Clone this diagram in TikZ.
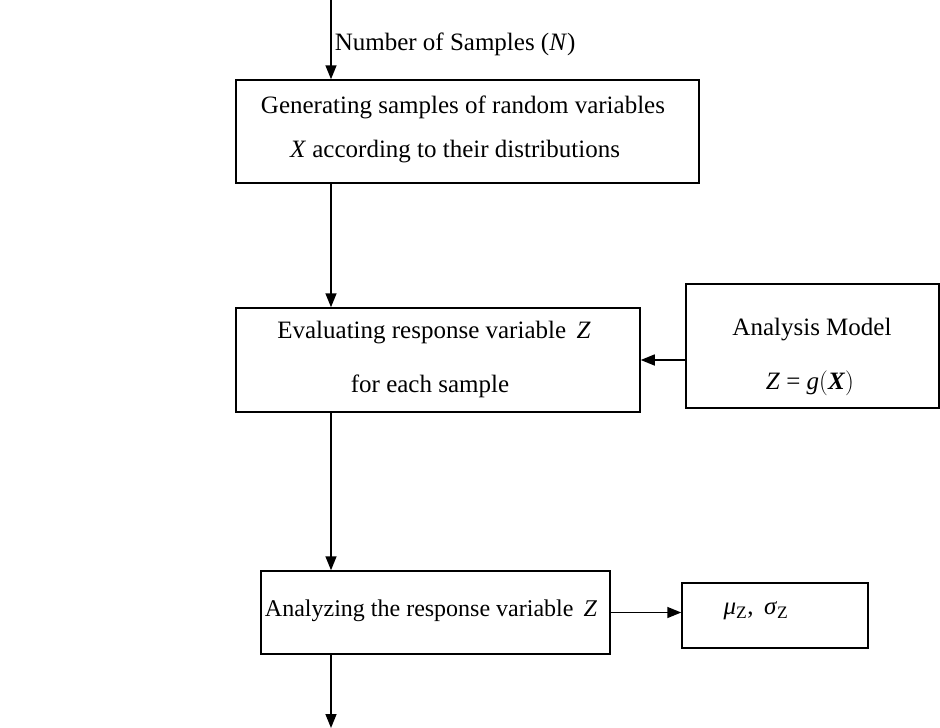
\documentclass[tikz,border=0pt]{standalone}
\usepackage{fontspec}
\setmainfont{Liberation Serif}
\usetikzlibrary{arrows.meta}
\begin{document}
\begin{tikzpicture}[x=1pt,y=-1pt,
  box/.style={draw,line width=1.5pt,rectangle,inner sep=0pt,align=center},
  arr/.style={line width=1.5pt,-{Triangle[length=14pt,width=11pt]}},
  every node/.style={font=\fontsize{25}{30}\selectfont},
  small/.style={font=\fontsize{24}{29}\selectfont}]
\useasboundingbox (0,0) rectangle (940,728);
\coordinate (top) at (331,0);
\coordinate (bot) at (331,728);
\node[box,minimum width=463pt,minimum height=103pt] (b1) at (467.5,131.5) {};
\node (b1a) at (463,107) {Generating samples of random variables};
\node (b1b) at (455,152) {\textit{X} according to their distributions};
\node[box,minimum width=404pt,minimum height=104pt] (b2) at (438,360) {};
\node (b2a) at (434,333) {Evaluating response variable\, \textit{Z}};
\node (b2b) at (430,386) {for each sample};
\node[box,minimum width=253pt,minimum height=124pt] (b3) at (812.5,346) {};
\node (b3a) at (812,330) {Analysis Model};
\node (b3b) at (810,383) {\textit{Z} = \textit{g}$\bigl($\textbf{\textit{X}}$\bigr)$};
\node[box,minimum width=349pt,minimum height=83pt] (b4) at (435.5,612.5) {};
\node[small] (b4a) at (431,611) {Analyzing the response variable\, \textit{Z}};
\node[box,minimum width=186pt,minimum height=65pt] (b5) at (775,615.5) {};
\node (b5a) at (756,611) {\textit{μ}\textsubscript{Z}, \,\textit{σ}\textsubscript{Z}};
\draw[arr] (top) -- (b1.north -| top) node[pos=0.56,right=2pt,inner sep=1pt] (lbl) {Number of Samples (\textit{N})};
\draw[arr] (b1.south -| top) -- (b2.north -| top);
\draw[arr] (b3.west |- b2.east) -- (b2.east);
\draw[arr] (b2.south -| top) -- (b4.north -| top);
\draw[arr] (b4.east) -- (b5.west |- b4.east);
\draw[arr] (b4.south -| top) -- (bot);
\end{tikzpicture}
\end{document}
